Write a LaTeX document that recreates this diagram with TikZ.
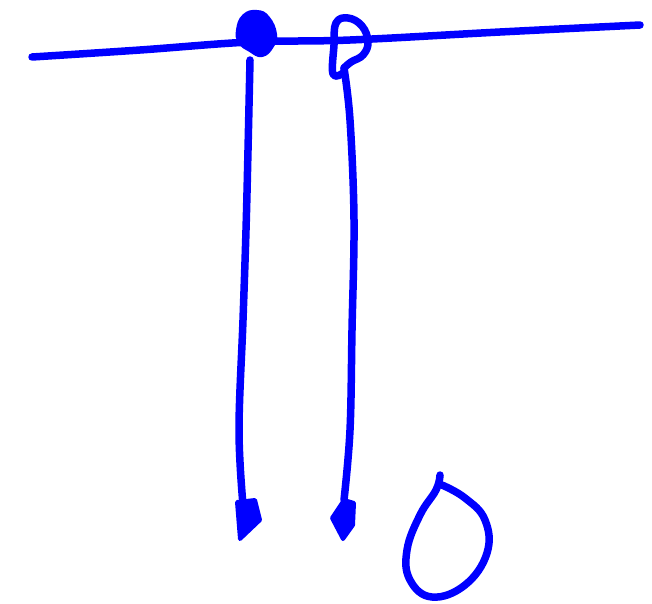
\documentclass[tikz,border=0pt]{standalone}
\begin{document}
\begin{tikzpicture}[x=1pt,y=-1pt,
  ink/.style={draw=blue,line width=7.5pt,line cap=round,line join=round},
  inkfill/.style={fill=blue,draw=blue,line width=4pt,line join=round}]
\useasboundingbox (0,0) rectangle (652,603);
% horizontal line
\draw[ink] plot[smooth,tension=0.6] coordinates {(32,57) (140,50) (250,42) (350,40) (500,32) (640,25)};
% left knot
\fill[inkfill] plot[smooth cycle,tension=0.8] coordinates {(238,30) (244,16) (257,12) (268,18) (275,34) (272,46) (262,55) (250,50) (240,42)};
% left rope
\draw[ink] plot[smooth,tension=0.6] coordinates {(250,60) (248,150) (246,230) (243,320) (239,430) (243,505)};
\fill[inkfill] (237,502) -- (255,500) -- (260,520) -- (240,539) -- cycle;
% right knot
\draw[ink] plot[smooth,tension=0.7] coordinates {(344,68) (351,62) (363,55) (368,42) (362,26) (348,18) (336,23) (334,45) (333,74) (343,73)};
% right rope
\draw[ink] plot[smooth,tension=0.6] coordinates {(344,68) (350,120) (354,220) (352,330) (350,430) (344,500)};
\fill[inkfill] (344,500) -- (354,503) -- (353,525) -- (343,539) -- (332,518) -- cycle;
% bottom loop
\draw[ink] plot[smooth,tension=0.7] coordinates {(440,475) (436,490) (420,515) (407,550) (410,580) (432,597) (465,585) (487,553) (485,520) (465,498) (442,485)};
\end{tikzpicture}
\end{document}
